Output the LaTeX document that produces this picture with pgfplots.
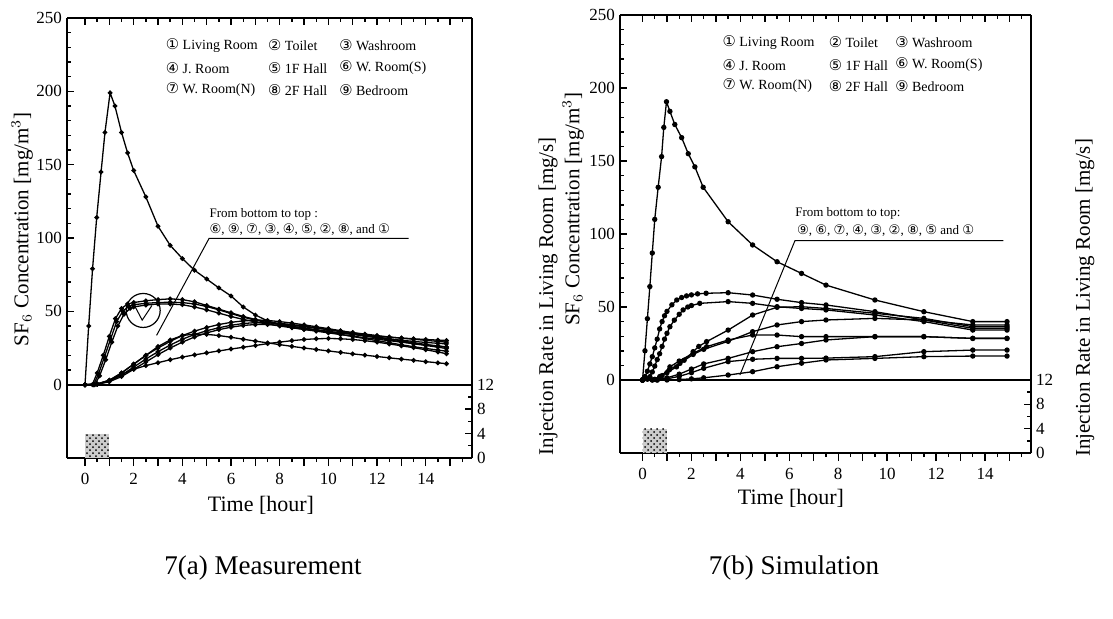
\documentclass[border=0pt]{standalone}
\usepackage{fontspec}
\setmainfont{Liberation Serif}
\newfontfamily\dejavu{DejaVu Sans}
\usepackage{pgfplots}
\pgfplotsset{compat=1.18}
\usetikzlibrary{patterns}

\newcommand{\cd}[1]{{\dejavu\fontsize{7.4}{8}\selectfont #1}}
\newcommand{\cds}[1]{{\dejavu\fontsize{6.6}{7}\selectfont #1}}
\newcommand{\lgf}{\fontsize{7}{8}\selectfont}

\pgfplotsset{
  base/.style={scale only axis, anchor=south west,
    axis line style={line width=0.9pt},
    every tick/.style={black, line width=0.7pt},
    major tick length=3.5pt, minor tick length=2pt,
    tick label style={font=\fontsize{8.5}{10}\selectfont},
    label style={font=\fontsize{10.5}{12}\selectfont},
    /pgf/number format/assume math mode=true},
  chartL/.style={base, at={(33.5pt,80pt)}, width=202.5pt, height=220pt,
    xmin=-0.74, xmax=15.9},
  chartR/.style={base, at={(310pt,82.5pt)}, width=205.5pt, height=219pt,
    xmin=-0.92, xmax=15.88},
  conc/.style={axis x line=none, axis y line*=left, tick align=inside,
    ymin=-50, ymax=250, ytick={0,50,...,250}, minor ytick={10,20,...,240},
    yticklabel style={xshift=1pt},
    ylabel={SF$_6$ Concentration [mg/m$^3$]}},
  timeax/.style={axis x line*=bottom, axis y line=none, tick align=outside,
    ymin=-50, ymax=250, xtick={0,...,15},
    xticklabels={0,,2,,4,,6,,8,,10,,12,,14,},
    minor xtick={0.5,1.5,...,15.5}, major tick length=4pt,
    xlabel style={font=\fontsize{11}{13}\selectfont},
    xlabel={Time [hour]}},
  injax/.style={axis x line*=top, axis y line*=right, tick align=inside,
    xtick={0,...,15}, xticklabels={}, minor xtick={0.5,1.5,...,15.5},
    ymin=0, ymax=72, ytick={0,4,8,12}, minor ytick={2,6,10},
    yticklabel style={xshift=-1pt},
    ylabel={Injection Rate in Living Room [mg/s]}},
  meas/.style={black, line width=0.65pt, mark=*, mark size=0.85pt},
  sim/.style={black, line width=0.65pt, mark=*, mark size=1pt},
}

\begin{document}
\begin{tikzpicture}
\useasboundingbox (0,0) rectangle (556.5pt,309pt);

% ================= 7(a) Measurement =================
\begin{axis}[chartL, conc,
  ylabel style={at={(axis description cs:-0.111,0.52)}, anchor=center}]
% Living Room
\addplot[meas] coordinates {(0,0)(0.15,40)(0.31,79)(0.48,114)(0.66,145)(0.82,172)(1.03,199)(1.23,190)(1.5,172)(1.75,158)(2,146)(2.5,128)(3,108)(3.5,95)(4,86)(4.5,78)(5,72)(5.5,66)(6,60.5)(6.5,53)(7,47.5)(7.5,43.5)(8,41)(8.5,39)(9,37.8)(9.5,36.8)(10,36)(10.5,35.2)(11,34.4)(11.5,33.7)(12,33)(12.5,32.4)(13,31.8)(13.5,31.3)(14,30.8)(14.5,30.4)(14.85,30.1)};
% fast group
\addplot[meas] coordinates {(0,0)(0.3,0)(0.5,8)(0.75,20)(1,33)(1.25,45)(1.5,52)(1.75,55)(2,56)(2.5,57.2)(3,58)(3.5,58.5)(4,58)(4.5,56.5)(5,54)(5.5,51.5)(6,49)(6.5,46.5)(7,44.5)(7.5,43)(8,41.5)(8.5,40.5)(9,39.5)(9.5,38.5)(10,37.5)(10.5,36.5)(11,35.5)(11.5,34.5)(12,33.5)(12.5,32.5)(13,31.7)(13.5,31)(14,30.2)(14.5,29.5)(14.85,29)};
\addplot[meas] coordinates {(0,0)(0.35,0)(0.55,7)(0.8,19)(1.05,31)(1.3,43)(1.55,50)(1.8,53.5)(2,54.5)(2.5,55.5)(3,56)(3.5,56.2)(4,56)(4.5,55)(5,53.3)(5.5,51)(6,48.5)(6.5,46)(7,44)(7.5,42.3)(8,41)(8.5,39.8)(9,38.6)(9.5,37.5)(10,36.4)(10.5,35.3)(11,34.2)(11.5,33.2)(12,32.2)(12.5,31.2)(13,30.3)(13.5,29.5)(14,28.8)(14.5,28.2)(14.85,27.8)};
\addplot[meas] coordinates {(0,0)(0.4,0)(0.6,6)(0.85,17)(1.1,29)(1.35,40)(1.6,48)(1.85,52)(2,53)(2.5,54.3)(3,55)(3.5,55)(4,54.5)(4.5,53)(5,51)(5.5,48.8)(6,46.5)(6.5,44.5)(7,42.8)(7.5,41.3)(8,40)(8.5,38.8)(9,37.6)(9.5,36.5)(10,35.3)(10.5,34.2)(11,33.1)(11.5,32)(12,31)(12.5,30)(13,29)(13.5,28.1)(14,27.2)(14.5,26.4)(14.85,25.8)};
% slow group
\addplot[meas] coordinates {(0,0)(0.5,0.5)(1,3)(1.5,8)(2,14)(2.5,20)(3,25)(3.5,29.5)(4,33.5)(4.5,36.5)(5,39)(5.5,41)(6,42.5)(6.5,43.5)(7,44)(7.5,43.8)(8,43)(8.5,42)(9,40.8)(9.5,39.5)(10,38.2)(10.5,36.8)(11,35.4)(11.5,34)(12,32.6)(12.5,31.2)(13,29.9)(13.5,28.6)(14,27.4)(14.5,26.3)(14.85,25.5)};
\addplot[meas] coordinates {(0,0)(0.5,0.3)(1,2.5)(1.5,6.5)(2,12)(2.5,17.5)(3,22.5)(3.5,27)(4,31)(4.5,34.2)(5,36.8)(5.5,38.8)(6,40.5)(6.5,41.7)(7,42.3)(7.5,42.3)(8,41.8)(8.5,41)(9,40)(9.5,38.8)(10,37.5)(10.5,36.1)(11,34.7)(11.5,33.3)(12,31.9)(12.5,30.5)(13,29.2)(13.5,27.9)(14,26.7)(14.5,25.6)(14.85,24.6)};
\addplot[meas] coordinates {(0,0)(0.5,0.2)(1,2)(1.5,5.5)(2,10.5)(2.5,15.5)(3,20.5)(3.5,25)(4,29)(4.5,32.5)(5,35.3)(5.5,37.5)(6,39.2)(6.5,40.4)(7,41)(7.5,41)(8,40.5)(8.5,39.6)(9,38.5)(9.5,37.2)(10,35.8)(10.5,34.3)(11,32.8)(11.5,31.4)(12,30)(12.5,28.6)(13,27.2)(13.5,25.9)(14,24.7)(14.5,23.6)(14.85,22.8)};
% peaks early, then falls
\addplot[meas] coordinates {(0,0)(0.5,0.5)(1,3)(1.5,8)(2,14)(2.5,20)(3,26)(3.5,30.5)(4,33.5)(4.5,34.5)(5,34.3)(5.5,33.5)(6,32.3)(6.5,31)(7,29.7)(7.5,28.5)(8,27.3)(8.5,26.1)(9,25)(9.5,24)(10,23)(10.5,22)(11,21)(11.5,20.1)(12,19.2)(12.5,18.3)(13,17.4)(13.5,16.6)(14,15.7)(14.5,14.9)(14.85,14.3)};
% lowest riser
\addplot[meas] coordinates {(0,0)(0.5,0.3)(1,3)(1.5,7)(2,10.5)(2.5,13)(3,15)(3.5,17)(4,18.8)(4.5,20.3)(5,21.7)(5.5,23)(6,24.3)(6.5,25.5)(7,26.7)(7.5,28)(8,29)(8.5,30)(9,30.8)(9.5,31.3)(10,31.5)(10.5,31.3)(11,30.8)(11.5,30)(12,29)(12.5,27.8)(13,26.5)(13.5,25.2)(14,23.8)(14.5,22.3)(14.85,21.1)};

\draw[line width=0.9pt] (axis cs:-0.74,0) -- (axis cs:15.9,0);
% pointer and circle
\draw[line width=0.5pt] (axis cs:2.94,33.6) -- (axis cs:5.1,99.8) -- (axis cs:13.3,99.8);
\draw[line width=0.6pt] (axis cs:2.39,50.6) circle[radius=8.5pt];
\draw[line width=0.5pt] (axis cs:2.0,55) -- (axis cs:2.35,44) -- (axis cs:2.75,54);
\node[anchor=west, inner sep=0pt, font=\fontsize{6.5}{7}\selectfont] at (axis cs:5.1,116) {From bottom to top :};
\node[anchor=west, inner sep=0pt, font=\fontsize{6.5}{7}\selectfont] at (axis cs:5.1,105.5)
  {\cds{⑥}, \cds{⑨}, \cds{⑦}, \cds{③}, \cds{④}, \cds{⑤}, \cds{②}, \cds{⑧}, and \cds{①}};
% room key
\begin{scope}[every node/.style={anchor=west, inner sep=0pt, font=\lgf}]
\node at (axis cs:3.31,231.5) {\cd{①} Living Room};
\node at (axis cs:7.51,231.5) {\cd{②} Toilet};
\node at (axis cs:10.43,231.5) {\cd{③} Washroom};
\node at (axis cs:3.31,216) {\cd{④} J. Room};
\node at (axis cs:7.51,216) {\cd{⑤} 1F Hall};
\node at (axis cs:10.43,216) {\cd{⑥} W. Room(S)};
\node at (axis cs:3.31,200.9) {\cd{⑦} W. Room(N)};
\node at (axis cs:7.51,200.9) {\cd{⑧} 2F Hall};
\node at (axis cs:10.43,200.9) {\cd{⑨} Bedroom};
\end{scope}
\end{axis}

\begin{axis}[chartL, timeax,
  xlabel style={at={(axis description cs:0.479,0)}, anchor=center, yshift=-23.5pt}]
\end{axis}

\begin{axis}[chartL, injax,
  ylabel style={at={(axis description cs:1.188,0.368)}, anchor=center}]
\addplot[draw=none, fill=gray!40, postaction={pattern=crosshatch dots, pattern color=black}]
  coordinates {(0,4)(1,4)} \closedcycle;
\end{axis}

% ================= 7(b) Simulation =================
\begin{axis}[chartR, conc,
  ylabel style={at={(axis description cs:-0.114,0.557)}, anchor=center}]
% Living Room
\addplot[sim] coordinates {(0,0)(0.1,20)(0.2,42)(0.3,64)(0.4,87)(0.5,110)(0.64,132)(0.78,153)(0.87,173)(0.98,190.6)(1.12,184)(1.32,175)(1.6,166)(1.87,155)(2.14,146)(2.48,132)(3.5,108.4)(4.5,92.5)(5.5,81)(6.5,73)(7.5,65)(9.5,54.8)(11.5,46.8)(13.5,40)(14.9,40)};
\addplot[sim] coordinates {(0,0)(0.1,2.3)(0.2,6)(0.3,11)(0.4,16)(0.5,22)(0.6,28)(0.7,35)(0.8,40)(0.9,44)(1.0,47)(1.2,51.5)(1.4,54.8)(1.6,56.5)(1.8,57.6)(2.0,58.3)(2.25,59)(2.6,59.4)(3.5,59.8)(4.5,58.2)(5.5,55.3)(6.5,53)(7.5,51.4)(9.5,46.8)(11.5,41.1)(13.5,35.4)(14.9,35.4)};
\addplot[sim] coordinates {(0,0)(0.2,0.5)(0.3,2.3)(0.4,5.5)(0.5,9.5)(0.6,14)(0.7,18)(0.8,23)(0.9,28)(1.0,32)(1.12,36.5)(1.3,41)(1.5,45)(1.66,48)(1.85,50)(2.0,51)(2.34,52.5)(3.5,53.7)(4.5,52.5)(5.5,50.2)(6.5,49)(7.5,48)(9.5,44.5)(11.5,40)(13.5,34.2)(14.9,34.2)};
\addplot[sim] coordinates {(0,0)(0.4,0)(0.71,2.3)(1.0,5)(1.39,9)(1.7,13.5)(2.07,19.4)(2.3,23)(2.62,26.3)(3.5,34.2)(4.5,44.5)(5.5,49.8)(6.5,50.2)(7.5,49)(9.5,45.7)(11.5,42.2)(13.5,36.5)(14.9,36.5)};
\addplot[sim] coordinates {(0,0)(0.4,0)(0.71,2.3)(1.1,7)(1.53,11.4)(2.07,17.5)(2.5,21)(3.5,26.5)(4.5,33.1)(5.5,37.7)(6.5,40)(7.5,41.1)(9.5,42.2)(11.5,41.1)(13.5,37.7)(14.9,37.7)};
\addplot[sim] coordinates {(0,0)(0.5,0.5)(0.8,3)(1.12,9)(1.5,13)(2.07,18.3)(2.62,22.8)(3.5,27.4)(4.5,30.8)(5.5,30.8)(6.5,29.7)(7.5,29.7)(9.5,29.7)(11.5,29.7)(13.5,28.5)(14.9,28.5)};
\addplot[sim] coordinates {(0,0)(0.6,0)(1.0,1.5)(1.5,4)(2.0,7.5)(2.5,11)(3.5,14.8)(4.5,19.4)(5.5,22.8)(6.5,25)(7.5,27.4)(9.5,29.7)(11.5,29.7)(13.5,28.5)(14.9,28.5)};
\addplot[sim] coordinates {(0,0)(0.6,0)(1.0,0.8)(1.5,2.5)(2.0,5)(2.5,8)(3.5,12.6)(4.5,14.2)(5.5,14.8)(6.5,14.8)(7.5,15)(9.5,16)(11.5,19.4)(13.5,20.5)(14.9,20.5)};
\addplot[sim] coordinates {(0,0)(1.0,0)(1.5,0.3)(2.0,0.8)(2.5,1.5)(3.5,3.4)(4.5,5.7)(5.5,9.1)(6.5,11.5)(7.5,13.7)(9.5,14.8)(11.5,16)(13.5,16.4)(14.9,16.4)};

\draw[line width=0.9pt] (axis cs:-0.92,0) -- (axis cs:15.88,0);
\draw[line width=0.5pt] (axis cs:3.98,3.4) -- (axis cs:6.23,95.4) -- (axis cs:14.75,95.4);
\node[anchor=west, inner sep=0pt, font=\fontsize{6.5}{7}\selectfont] at (axis cs:6.23,114) {From bottom to top:};
\node[anchor=west, inner sep=0pt, font=\fontsize{6.5}{7}\selectfont] at (axis cs:6.3,102.5)
  {\cds{⑨}, \cds{⑥}, \cds{⑦}, \cds{④}, \cds{③}, \cds{②}, \cds{⑧}, \cds{⑤} and \cds{①}};
\begin{scope}[every node/.style={anchor=west, inner sep=0pt, font=\lgf}]
\node at (axis cs:3.26,231.3) {\cd{①} Living Room};
\node at (axis cs:7.6,231.3) {\cd{②} Toilet};
\node at (axis cs:10.32,231.3) {\cd{③} Washroom};
\node at (axis cs:3.26,215.8) {\cd{④} J. Room};
\node at (axis cs:7.6,215.8) {\cd{⑤} 1F Hall};
\node at (axis cs:10.32,215.8) {\cd{⑥} W. Room(S)};
\node at (axis cs:3.26,201.4) {\cd{⑦} W. Room(N)};
\node at (axis cs:7.6,201.4) {\cd{⑧} 2F Hall};
\node at (axis cs:10.32,201.4) {\cd{⑨} Bedroom};
\end{scope}
\end{axis}

\begin{axis}[chartR, timeax,
  xlabel style={at={(axis description cs:0.416,0)}, anchor=center, yshift=-22.5pt}]
\end{axis}

\begin{axis}[chartR, injax,
  ylabel style={at={(axis description cs:1.131,0.354)}, anchor=center}]
\addplot[draw=none, fill=gray!40, postaction={pattern=crosshatch dots, pattern color=black}]
  coordinates {(0,4)(1,4)} \closedcycle;
\end{axis}

\node[font=\fontsize{13.5}{15}\selectfont] at (131.5pt,25pt) {7(a) Measurement};
\node[font=\fontsize{13.5}{15}\selectfont] at (397pt,25pt) {7(b) Simulation};
\end{tikzpicture}
\end{document}
